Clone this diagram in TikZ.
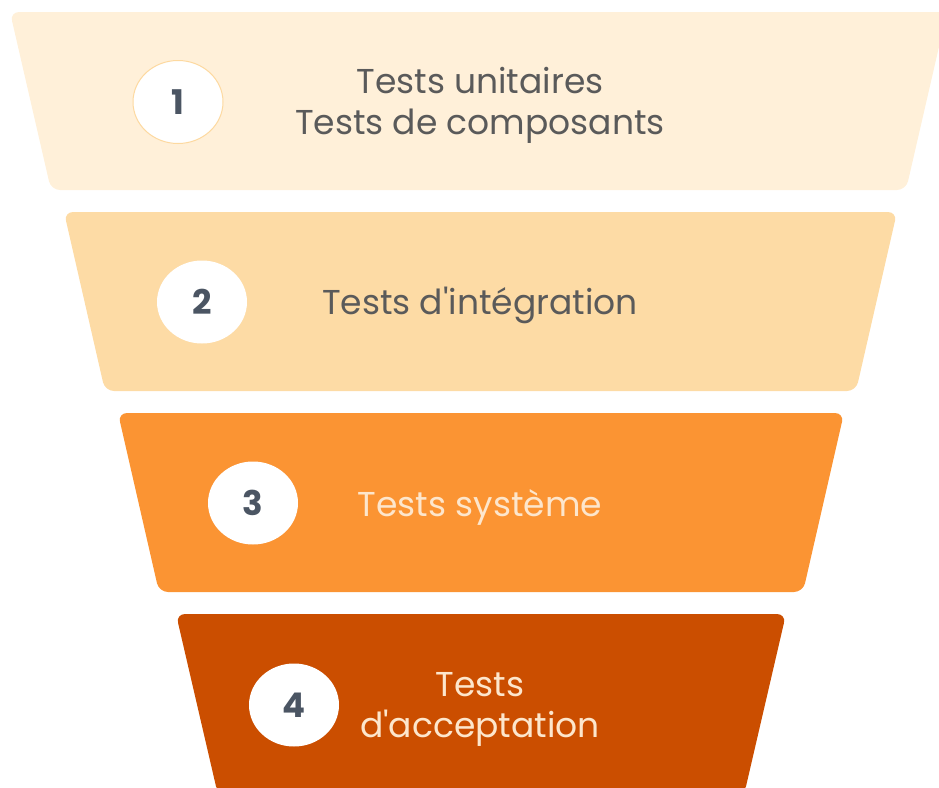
\documentclass[tikz,border=0pt]{standalone}
\usepackage{fontspec}
\setmainfont{Poppins}
\usetikzlibrary{shapes.geometric}
\definecolor{bandA}{HTML}{FFF0D9}
\definecolor{bandB}{HTML}{FDDBA5}
\definecolor{bandC}{HTML}{FB9433}
\definecolor{bandD}{HTML}{CB4E00}
\definecolor{txtgray}{HTML}{5A5A5A}
\definecolor{txtlight}{HTML}{FDE6CC}
\definecolor{numgray}{HTML}{4B5563}
\definecolor{ringcol}{HTML}{FDD9A0}
\newcommand{\apos}{\textquotesingle}
\begin{document}
\begin{tikzpicture}[x=1pt,y=-1pt,
    band/.style={draw=none,rounded corners=9pt},
    numdot/.style={ellipse,fill=white,minimum width=90pt,minimum height=83pt,
      inner sep=0pt,text=numgray,font=\fontsize{34}{34}\selectfont\bfseries},
    lbl/.style={align=center,font=\fontsize{34.5}{41}\selectfont},
    dark/.style={lbl,text=txtgray},
    light/.style={lbl,text=txtlight}
  ]
  \useasboundingbox (0,0) rectangle (939,787);
  \begin{scope}
    \clip (0,0) rectangle (939,787);
    % funnel bands, top to bottom
    \fill[band,bandA] (10,12) -- (947,12) -- (906,190) -- (51,190) -- cycle;
    \fill[band,bandB] (64,212) -- (897,212) -- (856,391) -- (105,391) -- cycle;
    \fill[band,bandC] (118,413) -- (844,413) -- (803,592) -- (159,592) -- cycle;
    \fill[band,bandD] (176,614) -- (786,614) -- (744,795) -- (218,795) -- cycle;
  \end{scope}

  \node[numdot,draw=ringcol,line width=1pt] (n1) at (178,102) {1};
  \node[numdot] (n2) at (202,302) {2};
  \node[numdot] (n3) at (253,503) {3};
  \node[numdot] (n4) at (294,705) {4};

  \node[dark] (l1) at (480,105) {Tests unitaires\\Tests de composants};
  \node[dark] (l2) at (480,305) {Tests d\apos intégration};
  \node[light] (l3) at (480,507) {Tests système};
  \node[light] (l4) at (480,709) {Tests\\d\apos acceptation};
\end{tikzpicture}
\end{document}
